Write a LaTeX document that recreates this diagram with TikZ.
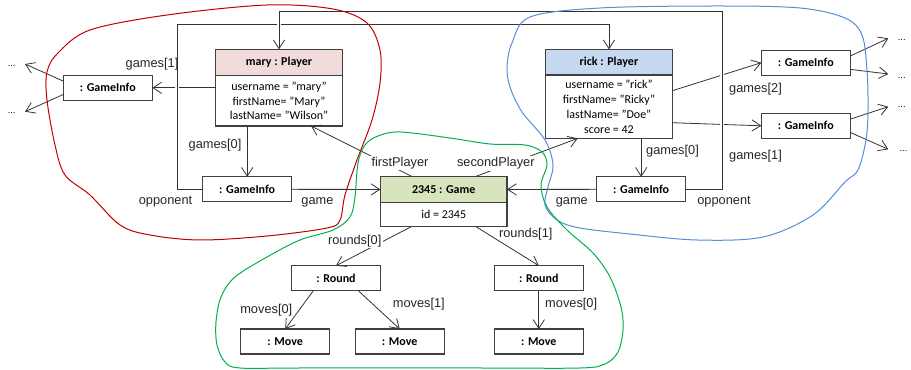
\documentclass[tikz,border=0pt]{standalone}
\usepackage{fontspec}
\setmainfont{Carlito}
\newfontfamily\lblfont{Liberation Sans}
\usetikzlibrary{positioning,arrows.meta}
\definecolor{maryfill}{HTML}{F2DCDB}
\definecolor{rickfill}{HTML}{C6D9F1}
\definecolor{gamefill}{HTML}{D7E4BD}
\definecolor{redline}{HTML}{C00000}
\definecolor{blueline}{HTML}{558ED5}
\definecolor{greenline}{HTML}{00B050}
\begin{document}
\begin{tikzpicture}[x=0.75pt,y=-0.75pt,
  obj/.style={draw=black!75, line width=0.9pt, outer sep=0pt, inner sep=1pt, minimum width=66.75pt, minimum height=18.75pt, font=\bfseries\fontsize{9}{11}\selectfont},
  big/.style={obj, minimum width=95pt},
  attr/.style={big, font=\fontsize{9}{11.2}\selectfont, align=center},
  ref/.style={draw=black!80, line width=0.6pt, -{Straight Barb[length=6.5pt,width=8.5pt]}},
  jump/.style={preaction={draw=white, line width=3.5pt, -, shorten <=3pt, shorten >=3pt}},
  lbl/.style={inner sep=0pt, font=\lblfont\fontsize{9.6}{11}\selectfont, text=black!85},
  dots/.style={inner sep=0pt, font=\lblfont\fontsize{7}{8}\selectfont, anchor=base},
  blob/.style={line width=0.75pt}]
\useasboundingbox (0,0) rectangle (911,370);
\node[big, fill=maryfill, minimum height=19.8pt] (maryH) at (279,62.5) {mary : Player};
\node[attr, minimum height=37.7pt, below=0pt of maryH] (maryB) {username = "mary"\\firstName= "Mary"\\lastName= "Wilson"};
\node[big, fill=rickfill, minimum height=19.3pt] (rickH) at (609,62.2) {rick : Player};
\node[attr, minimum height=47.5pt, below=0pt of rickH] (rickB) {username = "rick"\\firstName= "Ricky"\\lastName= "Doe"\\score = 42};
\node[big, fill=gamefill, minimum height=19.2pt] (gameH) at (443.7,189.5) {2345 : Game};
\node[attr, minimum height=18.3pt, below=0pt of gameH] (gameB) {id = 2345};
\node[obj] (gL) at (107.8,87.8) {: GameInfo};
\node[obj] (giM) at (247.2,189.3) {: GameInfo};
\node[obj] (giR) at (641.2,189.3) {: GameInfo};
\node[obj] (gi2) at (805.8,62.7) {: GameInfo};
\node[obj] (gi1) at (805.8,125.8) {: GameInfo};
\node[obj] (rd1) at (336,278.2) {: Round};
\node[obj] (rd2) at (538.8,278.2) {: Round};
\node[obj] (mv1) at (285.2,341.5) {: Move};
\node[obj] (mv2) at (399.7,341.5) {: Move};
\node[obj] (mv3) at (538.8,341.5) {: Move};
\node[dots] (dL1) at (11.7,67) {...};
\node[dots] (dL2) at (11.7,114) {...};
\node[dots] (dR1) at (901.7,41) {...};
\node[dots] (dR2) at (901.7,79) {...};
\node[dots] (dR3) at (901.7,108) {...};
\node[dots] (dR4) at (903.5,152) {...};
\coordinate (eL1) at (25,64);
\coordinate (eL2) at (25,111.7);
\coordinate (eR1) at (888.3,38.3);
\coordinate (eR2) at (888.3,74);
\coordinate (eR3) at (888.3,106.7);
\coordinate (eR4) at (888.3,149.3);
\coordinate (wM) at (177,24);
\coordinate (wR) at (722,11.7);
\draw[ref] (maryB.west |- gL) -- (gL);
\draw[ref] ([yshift=5pt]gL.west) -- (eL1);
\draw[ref] ([yshift=-5pt]gL.west) -- (eL2);
\draw[ref] (maryB.south -| giM) -- (giM);
\draw[ref] (giM) -- (gameH);
\draw[ref] (giR) -- (gameH);
\draw[ref] (rickB.south -| giR) -- (giR);
\draw[ref] ([yshift=12pt]rickB.east) -- (gi2.west);
\draw[ref] ([yshift=-12pt]rickB.east) -- (gi1.west);
\draw[ref] ([yshift=5pt]gi2.east) -- (eR1);
\draw[ref] ([yshift=-5pt]gi2.east) -- (eR2);
\draw[ref] ([yshift=5pt]gi1.east) -- (eR3);
\draw[ref] ([yshift=-5pt]gi1.east) -- (eR4);
\draw[ref] ([xshift=-23.5pt]gameH.north) -- ([xshift=24pt]maryB.south);
\draw[ref] ([xshift=23.5pt]gameH.north) -- ([xshift=-23.5pt]rickB.south);
\draw[ref] ([xshift=-24.3pt]gameB.south) -- (rd1.north);
\draw[ref] ([xshift=24.2pt]gameB.south) -- (rd2.north);
\draw[ref] ([xshift=-17pt]rd1.south) -- (mv1.north);
\draw[ref] ([xshift=16.7pt]rd1.south) -- (mv2.north);
\draw[ref] (rd2.south) -- (mv3.north);
\draw[ref, jump] (giM.west) -| (wM) -| (rickH.north);
\draw[ref, jump] (giR.east) -| (wR) -| (maryH.north);
\node[lbl] (lG1) at (152,64) {games[1]};
\node[lbl] (lG0m) at (215,145.5) {games[0]};
\node[lbl] (lOm) at (165.5,202) {opponent};
\node[lbl] (lGm) at (317.5,202) {game};
\node[lbl, fill=white, inner sep=1pt] (lFP) at (400,163) {firstPlayer};
\node[lbl, fill=white, inner sep=1pt] (lSP) at (495.8,163.5) {secondPlayer};
\node[lbl] (lG2) at (755.5,89.5) {games[2]};
\node[lbl] (lG1r) at (755.5,156.5) {games[1]};
\node[lbl] (lG0r) at (672.5,151.5) {games[0]};
\node[lbl] (lGr) at (571.8,202) {game};
\node[lbl] (lOr) at (724,202) {opponent};
\node[lbl, fill=white, inner sep=1pt] (lR0) at (354.7,241) {rounds[0]};
\node[lbl] (lR1) at (525.8,234) {rounds[1]};
\node[lbl] (lM0) at (266.3,310) {moves[0]};
\node[lbl] (lM1) at (418.8,304) {moves[1]};
\node[lbl] (lM0r) at (571.2,304) {moves[0]};
\draw[redline, blob] plot[smooth cycle, tension=0.55] coordinates {(267,5) (333,9) (367,23) (380,50) (380,83) (372,120) (357,160) (345,195) (340,220) (327,228) (267,236) (200,240) (150,235) (120,225) (90,195) (65,175) (55,145) (47,100) (47,72) (58,53) (90,30) (167,15)};
\draw[blueline, blob] plot[smooth cycle, tension=0.55] coordinates {(717,6) (800,8) (845,18) (862,35) (867,70) (868,110) (866,140) (858,170) (845,182) (813,215) (763,237) (697,240) (630,234) (580,228) (557,220) (545,205) (548,187) (553,165) (545,140) (522,112) (510,87) (507,67) (512,43) (530,17) (600,8)};
\draw[greenline, blob] plot[smooth cycle, tension=0.55] coordinates {(400,132) (450,138) (490,144) (525,145) (542,152) (547,165) (541,185) (547,207) (567,230) (593,253) (610,277) (621,307) (623,330) (618,352) (605,364) (580,368) (480,368) (300,368) (240,368) (225,362) (217,345) (216,322) (221,297) (235,277) (267,257) (300,240) (333,230) (350,217) (355,197) (358,163) (365,145) (378,136)};
\end{tikzpicture}
\end{document}
